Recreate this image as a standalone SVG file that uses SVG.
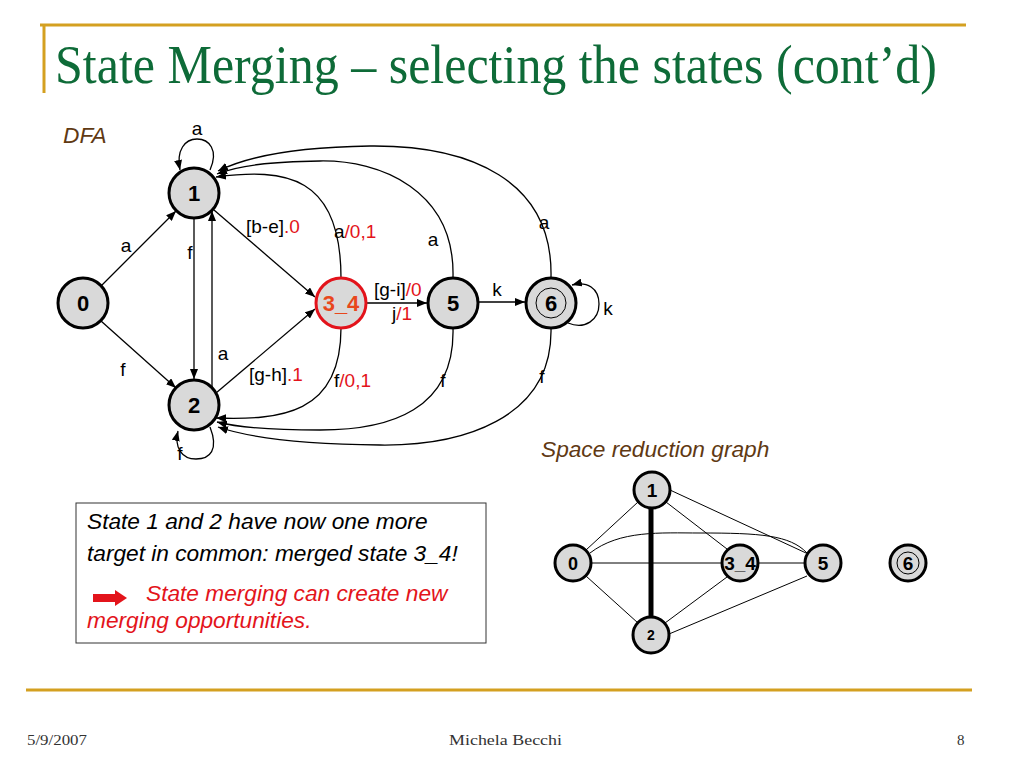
<svg xmlns="http://www.w3.org/2000/svg" width="1024" height="768" viewBox="0 0 1024 768">
<style>
.node{fill:#d9d9d9;stroke:#000;stroke-width:3}
.nl{font-family:"Liberation Sans",Arial,sans-serif;font-weight:bold;font-size:22px;text-anchor:middle;fill:#000}
.sl{font-family:"Liberation Sans",Arial,sans-serif;font-weight:bold;text-anchor:middle;fill:#000}
.e{fill:none;stroke:#000;stroke-width:1.3}
.g{fill:none;stroke:#000;stroke-width:1}
.lb{font-family:"Liberation Sans",Arial,sans-serif;font-size:19px;fill:#000}
.r{fill:#e3141b}
.gold{stroke:#d4a020;stroke-width:3}
.it{font-family:"Liberation Sans",Arial,sans-serif;font-style:italic;font-size:22.7px}
.ft{font-family:"Liberation Serif","Times New Roman",serif;font-size:15px;fill:#333}
</style>
<defs>
<marker id="arr" viewBox="0 0 10 8" refX="10" refY="4" markerWidth="10" markerHeight="8" markerUnits="userSpaceOnUse" orient="auto"><path d="M0,0 L10,4 L0,8 z" fill="#000"/></marker>
</defs>
<rect width="1024" height="768" fill="#fff"/>
<g id="frame">
<line class="gold" x1="40" y1="25" x2="966" y2="25"/>
<line class="gold" x1="44" y1="25" x2="44" y2="93" stroke-width="2"/>
<line class="gold" x1="26" y1="690" x2="972" y2="690"/>
<text transform="translate(55,83) scale(1,1.12)" x="0" y="0" font-family="Liberation Serif,'Times New Roman',serif" font-size="49" fill="#0e6b38" textLength="882" lengthAdjust="spacingAndGlyphs">State Merging – selecting the states (cont’d)</text>
<text class="ft" x="27" y="745" textLength="60" lengthAdjust="spacingAndGlyphs">5/9/2007</text>
<text class="ft" x="449" y="745" textLength="113" lengthAdjust="spacingAndGlyphs">Michela Becchi</text>
<text class="ft" x="957" y="745">8</text>
</g>
<text class="it" x="63" y="143" fill="#603913" font-size="22">DFA</text>
<g id="connectors">
<line class="e" x1="101" y1="286" x2="176" y2="211" marker-end="url(#arr)"/>
<line class="e" x1="101" y1="321" x2="176" y2="388" marker-end="url(#arr)"/>
<line class="e" x1="194" y1="218" x2="194" y2="379" marker-end="url(#arr)"/>
<line class="e" x1="212" y1="388" x2="212" y2="211" marker-end="url(#arr)"/>
<line class="e" x1="214" y1="210" x2="315" y2="297" marker-end="url(#arr)"/>
<line class="e" x1="216" y1="393" x2="315" y2="309" marker-end="url(#arr)"/>
<line class="e" x1="366" y1="303" x2="427" y2="303" marker-end="url(#arr)"/>
<line class="e" x1="478" y1="302" x2="525" y2="302" marker-end="url(#arr)"/>
<path class="e" d="M210,170 C219,150 209,139 197,139 C185,139 176,150 180,170" marker-end="url(#arr)"/>
<path class="e" d="M210,427 C219,450 210,459 196,459 C182,459 174,448 178,431" marker-end="url(#arr)"/>
<path class="e" d="M568,323 C585,330 599,320 599,304 C599,288 587,281 572,285" marker-end="url(#arr)"/>
<path class="e" d="M341,278 C341,175 285,168 216,177" marker-end="url(#arr)"/>
<path class="e" d="M453,277 C455,190 380,160 320,161 C270,162 240,165 217,174" marker-end="url(#arr)"/>
<path class="e" d="M551,277 C553,180 470,145 370,146 C300,147 250,155 218,171" marker-end="url(#arr)"/>
<path class="e" d="M341,328 C341,415 280,420 216,418" marker-end="url(#arr)"/>
<path class="e" d="M453,328 C455,410 390,430 320,430 C270,430 240,428 217,422" marker-end="url(#arr)"/>
<path class="e" d="M551,328 C553,420 460,446 380,445 C300,444 250,438 218,427" marker-end="url(#arr)"/>
</g>
<g id="dfa-labels">
<text class="lb" x="197" y="135" text-anchor="middle">a</text>
<text class="lb" x="126" y="252" text-anchor="middle">a</text>
<text class="lb" x="190" y="259" text-anchor="middle">f</text>
<text class="lb" x="123" y="376" text-anchor="middle">f</text>
<text class="lb" x="223" y="360" text-anchor="middle">a</text>
<text class="lb" x="180" y="460" text-anchor="middle">f</text>
<text class="lb" x="246" y="233">[b-e]<tspan class="r">.0</tspan></text>
<text class="lb" x="249" y="381">[g-h]<tspan class="r">.1</tspan></text>
<text class="lb" x="334" y="238">a<tspan class="r">/0,1</tspan></text>
<text class="lb" x="334" y="387">f<tspan class="r">/0,1</tspan></text>
<text class="lb" x="433" y="246" text-anchor="middle">a</text>
<text class="lb" x="544" y="229" text-anchor="middle">a</text>
<text class="lb" x="443" y="387" text-anchor="middle">f</text>
<text class="lb" x="542" y="383" text-anchor="middle">f</text>
<text class="lb" x="374" y="296">[g-i]<tspan class="r">/0</tspan></text>
<text class="lb" x="392" y="320">j<tspan class="r">/1</tspan></text>
<text class="lb" x="497" y="296" text-anchor="middle">k</text>
<text class="lb" x="608" y="315" text-anchor="middle">k</text>
</g>
<g id="n0"><circle class="node" cx="83" cy="303" r="25"/><text class="nl" x="83" y="311">0</text></g>
<g id="n1"><circle class="node" cx="194" cy="193" r="25"/><text class="nl" x="194" y="201">1</text></g>
<g id="n2"><circle class="node" cx="194" cy="405" r="25"/><text class="nl" x="194" y="413">2</text></g>
<g id="n34"><circle class="node" cx="341" cy="303" r="25" style="stroke:#e3131b"/><text class="nl" x="341" y="311" style="fill:#e8471c">3_4</text></g>
<g id="n5"><circle class="node" cx="453" cy="303" r="25"/><text class="nl" x="453" y="311">5</text></g>
<g id="n6"><circle class="node" cx="551" cy="303" r="25"/><circle cx="551" cy="303" r="15" fill="none" stroke="#000" stroke-width="1"/><text class="nl" x="551" y="311">6</text></g>
<text class="it" x="541" y="457" fill="#603913" font-size="22.5">Space reduction graph</text>
<g id="srg-connectors">
<line class="g" x1="586" y1="550" x2="638" y2="502"/>
<line class="g" x1="586" y1="576" x2="638" y2="623"/>
<line class="g" x1="591" y1="563" x2="722" y2="563"/>
<line class="g" x1="758" y1="563" x2="805" y2="563"/>
<line class="g" x1="666" y1="502" x2="727" y2="549"/>
<line class="g" x1="670" y1="490" x2="806" y2="553"/>
<line class="g" x1="665" y1="623" x2="727" y2="577"/>
<line class="g" x1="669" y1="634" x2="807" y2="576"/>
<path class="g" d="M590,553 C620,530 660,533 700,533 C760,533 790,535 807,553"/>
<line x1="651" y1="508" x2="651" y2="617" stroke="#000" stroke-width="5"/>
</g>
<g id="s1"><circle class="node" cx="652" cy="490" r="18"/><text class="sl" x="652" y="497" font-size="19">1</text></g>
<g id="s0"><circle class="node" cx="573" cy="563" r="18"/><text class="sl" x="573" y="570" font-size="18">0</text></g>
<g id="s34"><circle class="node" cx="740" cy="563" r="18"/><text class="sl" x="740" y="570" font-size="19">3_4</text></g>
<g id="s5"><circle class="node" cx="823" cy="563" r="18"/><text class="sl" x="823" y="570" font-size="19">5</text></g>
<g id="s6"><circle class="node" cx="908" cy="563" r="18"/><circle cx="908" cy="563" r="11" fill="none" stroke="#000" stroke-width="1"/><text class="sl" x="908" y="570" font-size="19">6</text></g>
<g id="s2"><circle class="node" cx="651" cy="635" r="18"/><text class="sl" x="651" y="640" font-size="14">2</text></g>
<g id="note">
<rect x="76" y="503" width="410" height="140" fill="#fff" stroke="#333" stroke-width="1"/>
<text class="it" x="87" y="529" fill="#000">State 1 and 2 have now one more</text>
<text class="it" x="87" y="561" fill="#000">target in common: merged state 3_4!</text>
<path d="M93,594 L115,594 L115,590 L127,598 L115,606 L115,602 L93,602 z" fill="#e3141b"/>
<text class="it" x="146" y="601" fill="#e3141b">State merging can create new</text>
<text class="it" x="87" y="628" fill="#e3141b">merging opportunities.</text>
</g>
</svg>
